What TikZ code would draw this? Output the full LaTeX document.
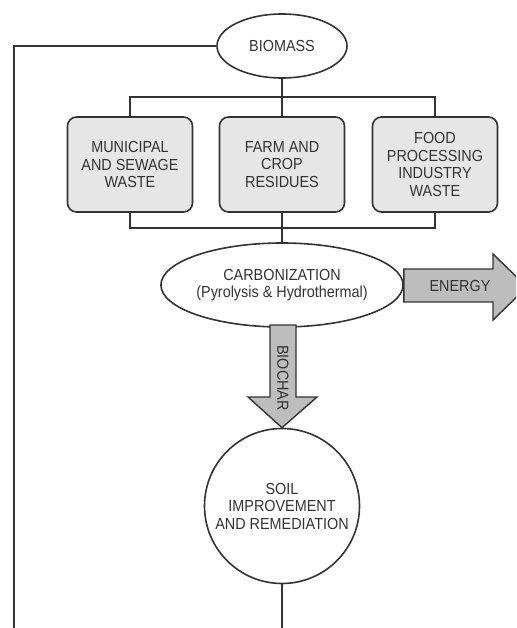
\documentclass[tikz,border=0pt]{standalone}
\usepackage{fontspec}
\setmainfont[FakeStretch=0.9]{Liberation Sans}
\usetikzlibrary{shapes.geometric}
\usetikzlibrary{positioning}

\definecolor{linegray}{HTML}{333333}
\definecolor{boxgray}{HTML}{E6E6E6}
\definecolor{arrowgray}{HTML}{BDBDBD}

\begin{document}
\begin{tikzpicture}[x=1pt,y=-1pt,
  line/.style={draw=linegray,line width=1.6pt},
  txt/.style={font=\fontsize{16}{17.5}\selectfont,text=linegray,align=center},
  oval/.style={ellipse,line,fill=white,txt,inner sep=0pt},
  source/.style={rectangle,rounded corners=9pt,line,fill=boxgray,txt,minimum width=125pt,minimum height=95pt,inner sep=0pt},
  blockarrow/.style={draw=linegray,line width=1.4pt,fill=arrowgray,line join=miter}]
\useasboundingbox (0,0) rectangle (516,628);
\clip (0,0) rectangle (516,628);

% feedstock
\node[oval,minimum width=130pt,minimum height=64pt] (biomass) at (282,46) {BIOMASS};
\node[source] (municipal) at (130,164.5) {MUNICIPAL\\AND SEWAGE\\WASTE};
\node[source] (farm) at (282,164.5) {FARM AND\\CROP\\RESIDUES};
\node[source] (food) at (435,164.5) {FOOD\\PROCESSING\\INDUSTRY\\WASTE};
\coordinate (busT) at (282,97);
\coordinate (busB) at (282,228);

% conversion and use
\node[oval,minimum width=231pt,minimum height=84pt] (carb) at (282,285) {CARBONIZATION\\(Pyrolysis \& Hydrothermal)};
\node[circle,line,fill=white,txt,minimum size=155pt,inner sep=0pt] (soil) at (282,506) {SOIL\\IMPROVEMENT\\AND REMEDIATION};
\coordinate (loopL) at (14,640);
\coordinate (soilEnd) at (282,640);

% connectors
\draw[line] (biomass.south) -- (busT);
\draw[line] (municipal.north) |- (busT) -| (food.north);
\draw[line] (busT) -- (farm.north);
\draw[line] (municipal.south) |- (busB) -| (food.south);
\draw[line] (farm.south) -- (busB) -- (carb.north);
\draw[line] (biomass.west) -| (loopL);
\draw[line] (soil.south) -- (soilEnd);

% block arrows
\draw[blockarrow] (carb.east |- 0,269) -- (493,269) -- (493,254) -- (527,287) -- (493,320) -- (493,302) -- (carb.east |- 0,302) -- cycle;
\node[txt,anchor=center] (energy) at (460,285.5) {ENERGY};
\draw[blockarrow] (270,325) -- (270,397) -- (248,397) -- (soil.north) -- (317,397) -- (296,397) -- (296,325) -- cycle;
\node[txt,rotate=-90] (biochar) at (283,378) {BIOCHAR};
\end{tikzpicture}
\end{document}
